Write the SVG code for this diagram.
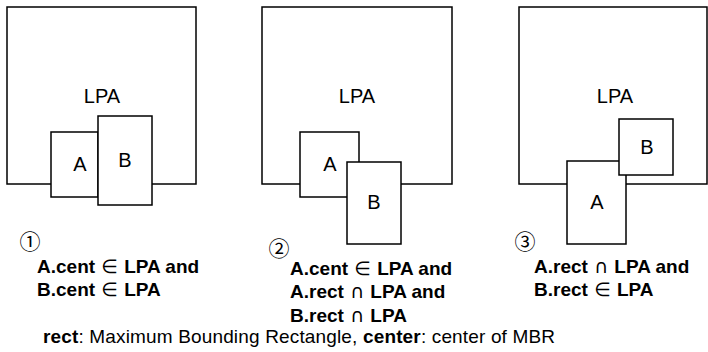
<svg xmlns="http://www.w3.org/2000/svg" width="708" height="352" viewBox="0 0 708 352">
<style>
.box{fill:#fff;stroke:#000;stroke-width:1.5}
.lbl{font-family:"Liberation Sans",Arial,sans-serif;font-size:20px;text-anchor:middle;fill:#000}
.cond{font-family:"Liberation Sans","DejaVu Sans",sans-serif;font-size:19px;font-weight:bold;fill:#000}
.sym{font-family:"DejaVu Sans",sans-serif;font-weight:normal}
.num{font-family:"Noto Sans CJK JP","DejaVu Sans",sans-serif;font-size:21px;text-anchor:middle;fill:#000}
.note{font-family:"Liberation Sans",Arial,sans-serif;font-size:19px;fill:#000}
</style>
<rect width="708" height="352" fill="#fff"/>
<g id="panel1">
<g id="lpa1"><rect class="box" x="7" y="7" width="189" height="177"/><text class="lbl" x="102" y="103">LPA</text></g>
<g id="a1"><rect class="box" x="51" y="132" width="47" height="65"/><text class="lbl" x="80" y="171">A</text></g>
<g id="b1"><rect class="box" x="98" y="116" width="54" height="89"/><text class="lbl" x="125" y="167">B</text></g>
</g>
<g id="panel2">
<g id="lpa2"><rect class="box" x="262" y="7" width="190" height="177"/><text class="lbl" x="357" y="103">LPA</text></g>
<g id="a2"><rect class="box" x="300" y="132" width="59" height="65"/><text class="lbl" x="330" y="171">A</text></g>
<g id="b2"><rect class="box" x="347" y="162" width="54" height="82"/><text class="lbl" x="374" y="209">B</text></g>
</g>
<g id="panel3">
<g id="lpa3"><rect class="box" x="519" y="7" width="188" height="177"/><text class="lbl" x="615" y="103">LPA</text></g>
<g id="a3"><rect class="box" x="567" y="161" width="59" height="83"/><text class="lbl" x="597" y="209">A</text></g>
<g id="b3"><rect class="box" x="619" y="119" width="54" height="56"/><text class="lbl" x="647" y="154">B</text></g>
</g>
<g id="captions">
<text class="num" x="30" y="249">①</text>
<text class="cond" x="37" y="273">A.cent <tspan class="sym" dx="1">∈</tspan><tspan dx="1"> LPA and</tspan></text>
<text class="cond" x="37" y="296">B.cent <tspan class="sym" dx="1">∈</tspan><tspan dx="1"> LPA</tspan></text>
<text class="num" x="279" y="256">②</text>
<text class="cond" x="290" y="275">A.cent <tspan class="sym" dx="1">∈</tspan><tspan dx="1"> LPA and</tspan></text>
<text class="cond" x="290" y="298">A.rect <tspan class="sym" dx="1">∩</tspan><tspan dx="1"> LPA and</tspan></text>
<text class="cond" x="290" y="322">B.rect <tspan class="sym" dx="1">∩</tspan><tspan dx="1"> LPA</tspan></text>
<text class="num" x="525" y="249">③</text>
<text class="cond" x="534" y="273">A.rect <tspan class="sym" dx="1">∩</tspan><tspan dx="1"> LPA and</tspan></text>
<text class="cond" x="534" y="296">B.rect <tspan class="sym" dx="1">∈</tspan><tspan dx="1"> LPA</tspan></text>
<text class="note" x="43" y="343" textLength="512" lengthAdjust="spacing"><tspan font-weight="bold">rect</tspan>: Maximum Bounding Rectangle, <tspan font-weight="bold">center</tspan>: center of MBR</text>
</g>
</svg>
